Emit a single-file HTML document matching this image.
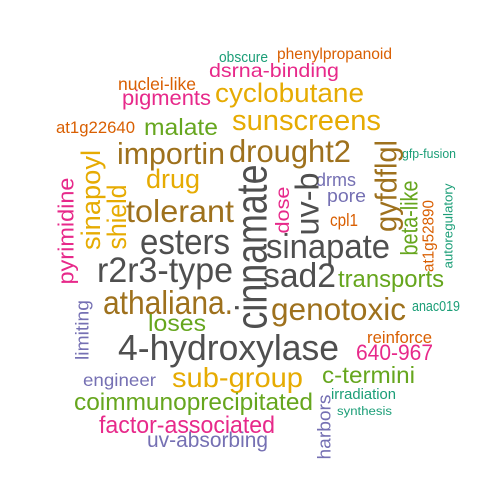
<!DOCTYPE html>
<html><head><meta charset="utf-8"><style>
html,body{margin:0;padding:0;background:#fff;width:500px;height:500px;overflow:hidden}
svg text{font-family:"Liberation Sans",Arial,sans-serif}
</style></head><body>
<svg id="wc" width="500" height="500" xmlns="http://www.w3.org/2000/svg"></svg>
<script>
const C={teal:'#1B9E77',orange:'#D95F02',purple:'#7570B3',pink:'#E7298A',green:'#66A61E',yellow:'#E6AB02',brown:'#9E711D',gray:'#4F4F4F'};
// word, color, x1, x2 (or center x if rotated), y (baseline or center), size, rotated
const words=[
['obscure','teal',219,268,62,13,0],
['phenylpropanoid','orange',277,392,59,14,0],
['dsrna-binding','pink',209,339,77,18,0],
['nuclei-like','orange',118,196,90,16,0],
['pigments','pink',122,211,105,19,0],
['cyclobutane','yellow',215,364,102,24,0],
['at1g22640','orange',56,135,133,15,0],
['malate','green',144,218,135,21,0],
['sunscreens','yellow',232,381,130,26,0],
['importin','brown',117,225,164,28,0],
['drought2','brown',229,351,162,29,0],
['gfp-fusion','teal',402,456,158,12,0],
['drug','yellow',146,200,188,24,0],
['drms','purple',316,356,186,17,0],
['pore','purple',327,366,202,17,0],
['tolerant','brown',126,234,222,29,0],
['cpl1','orange',330,358,226,16,0],
['esters','gray',140,230,254,33,0],
['sinapate','gray',266,390,258,31,0],
['r2r3-type','gray',97,233,282,32,0],
['sad2','gray',263,336,287,31,0],
['transports','green',338,444,287,22,0],
['athaliana.','brown',103,233,314,30,0],
['genotoxic','brown',271,406,320,29,0],
['anac019','teal',412,460,311,13,0],
['loses','green',148,206,331,21,0],
['reinforce','orange',367,432,343,15,0],
['4-hydroxylase','gray',118,339,360,33,0],
['640-967','pink',356,433,360,20,0],
['engineer','purple',83,156,386,16,0],
['sub-group','yellow',172,303,387,25,0],
['c-termini','green',322,415,383,21,0],
['irradiation','teal',331,396,399,13,0],
['coimmunoprecipitated','green',74,313,410,22,0],
['synthesis','teal',337,392,415,11,0],
['factor-associated','pink',99,275,433,22,0],
['uv-absorbing','purple',147,268,447,19,0],
['gyfdflgl','brown',386,92,186,28,1],
['cinnamate','gray',252,165,247,40,1],
['uv-b','gray',307,63,204,30,1],
['dose','pink',283,47,210,18,1],
['beta-like','green',410,75,218,22,1],
['at1g52890','orange',429,72,236,14,1],
['autoregulatory','teal',448,85,226,12,1],
['sinapoyl','yellow',91,100,200,24,1],
['pyrimidine','pink',66,107,231,20,1],
['shield','yellow',117,65,217,24,1],
['limiting','purple',82,60,330,17,1],
['harbors','purple',324,65,427,17,1]
];
const svg=document.getElementById('wc');
const NS='http://www.w3.org/2000/svg';
const K=1.1;
words.forEach(w=>{
  const t=document.createElementNS(NS,'text');
  t.textContent=w[0];
  t.setAttribute('fill',C[w[1]]);
  t.setAttribute('font-size',(w[5]*K).toFixed(1));
  t.setAttribute('lengthAdjust','spacingAndGlyphs');
  if(w[6]){
    t.setAttribute('x',0);t.setAttribute('y',0);
    t.setAttribute('text-anchor','middle');
    t.setAttribute('dominant-baseline','central');
    t.setAttribute('textLength',w[3]);
    t.setAttribute('transform','translate('+w[2]+','+w[4]+') rotate(-90)');
  } else {
    t.setAttribute('x',w[2]);t.setAttribute('y',w[4]);
    t.setAttribute('textLength',w[3]-w[2]);
  }
  
  
  svg.appendChild(t);
});
</script>
</body></html>
